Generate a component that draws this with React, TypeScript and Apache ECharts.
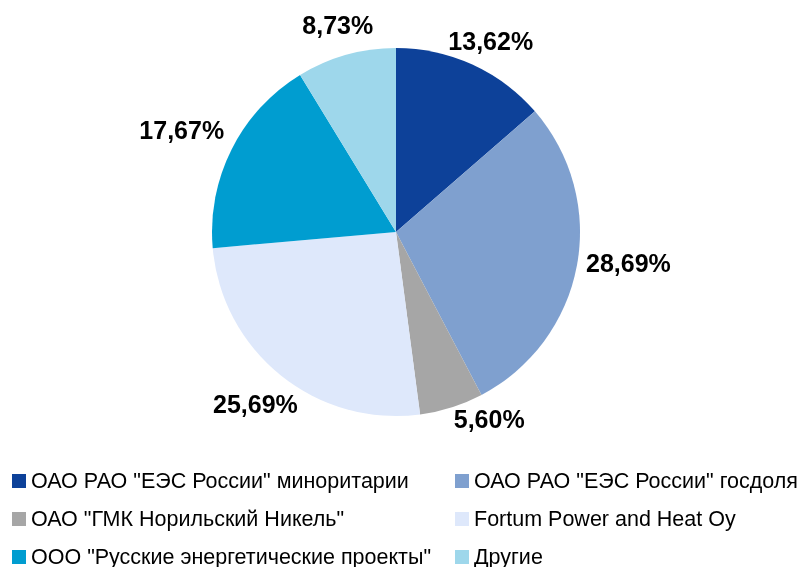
import React, { useEffect, useRef } from "react";
import * as echarts from "echarts";

const categories = [
  'ОАО РАО "ЕЭС России" миноритарии',
  'ОАО РАО "ЕЭС России" госдоля',
  'ОАО "ГМК Норильский Никель"',
  "Fortum Power and Heat Oy",
  'ООО "Русские энергетические проекты"',
  "Другие",
];
const values = [13.62, 28.69, 5.6, 25.69, 17.67, 8.73];
const valueLabels = ["13,62%", "28,69%", "5,60%", "25,69%", "17,67%", "8,73%"];
const colors = ["#0D4199", "#7FA0CF", "#A6A6A6", "#DEE8FB", "#009DD0", "#9ED7EB"];

const CX = 396;
const CY = 232;
const R = 184;

export default function App() {
  const ref = useRef<HTMLDivElement>(null);
  useEffect(() => {
    const chart = echarts.init(ref.current!, null, { renderer: "svg" });
    const font = "'Liberation Sans', Arial, sans-serif";
    const total = values.reduce((a, b) => a + b, 0);
    const mids: number[] = [];
    let cum = 0;
    values.forEach((v) => {
      mids.push(((cum + v / 2) / total) * Math.PI * 2);
      cum += v;
    });
    // small best-fit style nudges for label placement (px)
    const nudge = [
      [4, 7],
      [1, -14],
      [29, -16],
      [1, -6],
      [-5, 3],
      [-1, -5],
    ];
    const legendText = {
      fontFamily: font,
      fontSize: 21.5,
      lineHeight: 22,
      color: "#000",
    };
    const legendBase = {
      orient: "vertical",
      top: 470,
      height: 110,
      padding: 0,
      itemWidth: 14,
      itemHeight: 14,
      itemGap: 16,
      icon: "rect",
      textStyle: legendText,
    };
    chart.setOption({
      animation: false,
      color: colors,
      legend: [
        { ...legendBase, left: 12, data: [categories[0], categories[2], categories[4]] },
        { ...legendBase, left: 455, data: [categories[1], categories[3], categories[5]] },
      ],
      series: [
        {
          type: "pie",
          center: [CX, CY],
          radius: R,
          startAngle: 90,
          clockwise: true,
          avoidLabelOverlap: false,
          data: categories.map((c, i) => ({ name: c, value: values[i] })),
          label: {
            show: true,
            position: "outside",
            formatter: (p: any) => valueLabels[p.dataIndex],
            fontFamily: font,
            fontSize: 25,
            fontWeight: "bold",
            color: "#000",
          },
          labelLine: { show: false, length: 10, length2: 0 },
          labelLayout: (p: any) => {
            const i = p.dataIndex;
            const a = mids[i];
            const s = Math.sin(a);
            const c = Math.cos(a);
            const hw = p.labelRect.width / 2;
            const hh = 10;
            const d = R + 8 + hw * Math.abs(s) + hh * Math.abs(c);
            return {
              x: CX + d * s + nudge[i][0],
              y: CY - d * c + 1 + nudge[i][1],
              align: "center",
              verticalAlign: "middle",
            };
          },
          itemStyle: { borderWidth: 0 },
          emphasis: { disabled: true },
        },
      ],
    });
    return () => chart.dispose();
  }, []);
  return (
    <div
      ref={ref}
      style={{ position: "fixed", left: 0, top: 0, width: 800, height: 567 }}
    />
  );
}
